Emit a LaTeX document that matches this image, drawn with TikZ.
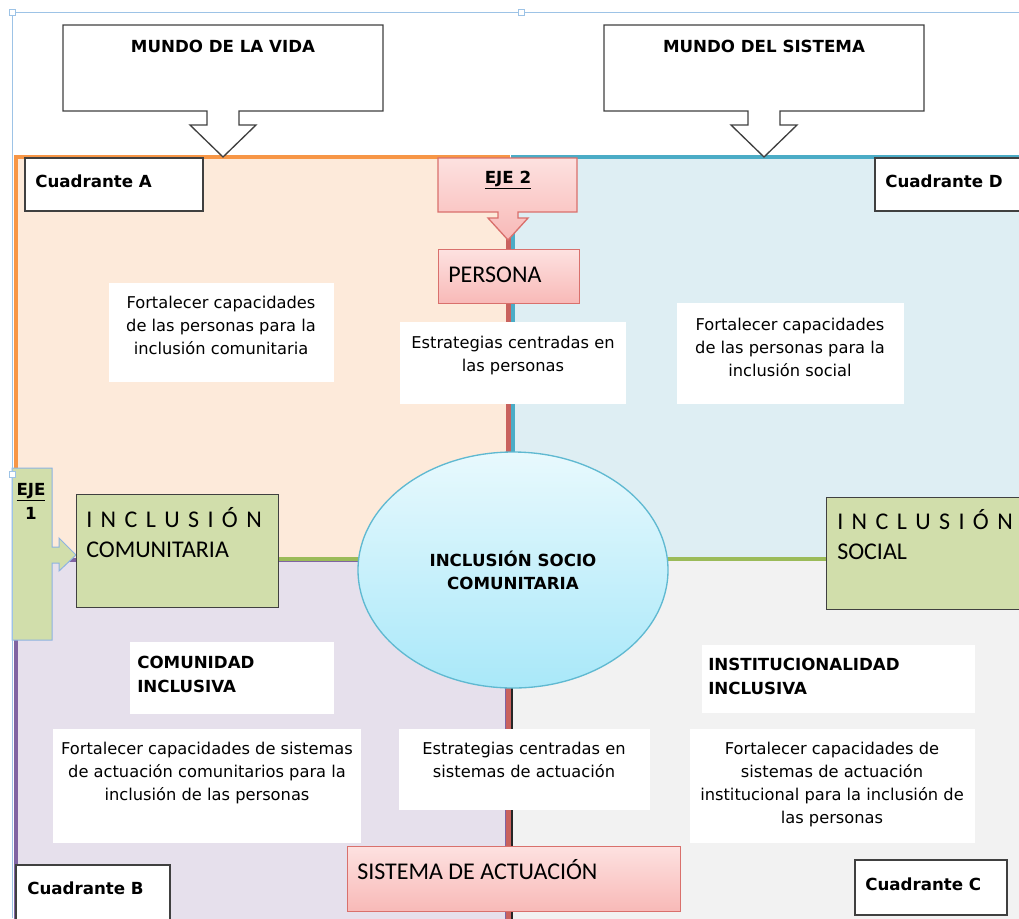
\documentclass[tikz,border=0pt]{standalone}
\usepackage{fontspec}
\setmainfont{DejaVu Sans}
\newfontfamily\calib{Carlito}
\usetikzlibrary{shapes.geometric}
\definecolor{quadAline}{HTML}{F79646}
\definecolor{quadAfill}{HTML}{FDEADA}
\definecolor{quadDline}{HTML}{4BACC6}
\definecolor{quadDfill}{HTML}{DEEEF3}
\definecolor{quadBline}{HTML}{8064A2}
\definecolor{quadBfill}{HTML}{E6E0EC}
\definecolor{quadCfill}{HTML}{F2F2F2}
\definecolor{ejeline}{HTML}{C9625E}
\definecolor{linkgreen}{HTML}{9BBB59}
\definecolor{boxgreen}{HTML}{D1DEAB}
\definecolor{pinktop}{HTML}{FDE1E0}
\definecolor{pinkbot}{HTML}{F8B9B7}
\definecolor{pinkline}{HTML}{D9706C}
\definecolor{coretop}{HTML}{E8F9FD}
\definecolor{corebot}{HTML}{A9E8F9}
\definecolor{coreline}{HTML}{5FB9D1}
\definecolor{selblue}{HTML}{9DC3E6}
\definecolor{ejeone}{HTML}{8DB3E2}

\begin{document}
\begin{tikzpicture}[x=0.75pt,y=-0.75pt,line join=miter,
  callout/.style={draw=black!75,line width=1pt,fill=white},
  pinkbox/.style={draw=pinkline,line width=1pt,top color=pinktop,bottom color=pinkbot},
  greenbox/.style={draw=black!75,line width=1pt,fill=boxgreen},
  quadbox/.style={draw=black!75,line width=1pt,fill=white},
  core/.style={ellipse,draw=coreline,line width=1pt,top color=coretop,bottom color=corebot,inner sep=0,
    minimum width=232.5pt,minimum height=177pt,font=\bfseries\fontsize{12.5}{17.25}\selectfont,align=center},
  headtxt/.style={font=\bfseries\fontsize{12.5}{18}\selectfont,inner sep=0,align=left},
  bodytxt/.style={font=\fontsize{12.2}{17.25}\selectfont,inner sep=0,align=center},
  calibtxt/.style={font=\calib\fontsize{18}{22.5}\selectfont,inner sep=0,align=left}]
  \useasboundingbox (0,0) rectangle (1019,918);
  \clip (0,0) rectangle (1019,918);

  \draw[quadAline,line width=3pt,fill=quadAfill] (16,157) rectangle (508,560);
  \draw[quadDline,line width=3pt,fill=quadDfill] (513,157) rectangle (1030,560);
  \draw[quadBline,line width=3pt,fill=quadBfill] (16,560) rectangle (507,930);
  \draw[black!85,line width=1.5pt,fill=quadCfill] (512,560) rectangle (1030,930);
  \draw[ejeline,line width=3.75pt] (508.5,215) coordinate (ejetop) -- (508.5,930) coordinate (ejebot);

  \draw[callout] (63,25) -- (383,25) -- (383,111) -- (239,111) -- (239,125) -- (256,125) -- (223,157) -- (190,125) -- (207,125) -- (207,111) -- (63,111) -- cycle;
  \node[headtxt,anchor=base] (vida) at (223,52) {MUNDO DE LA VIDA};
  \draw[callout] (604,25) -- (924,25) -- (924,111) -- (780,111) -- (780,125) -- (797,125) -- (764,157) -- (731,125) -- (748,125) -- (748,111) -- (604,111) -- cycle;
  \node[headtxt,anchor=base] (sistema) at (764,52) {MUNDO DEL SISTEMA};

  \draw[quadbox] (25,158) rectangle (203,211);
  \node[headtxt,anchor=base west] (cuadA) at (35,187) {Cuadrante A};
  \draw[quadbox] (875,158) rectangle (1030,211);
  \node[headtxt,anchor=base west] (cuadD) at (885,187) {Cuadrante D};

  \draw[pinkbox] (438,158) -- (577,158) -- (577,212) -- (518,212) -- (518,218) -- (528,218) -- (508,240) -- (488,218) -- (498,218) -- (498,212) -- (438,212) -- cycle;
  \node[headtxt,anchor=base] (eje2) at (508,183) {\underline{EJE 2}};
  \node[pinkbox,anchor=north west,minimum width=105.75pt,minimum height=40.5pt,inner sep=0] (persona) at (438,249) {};
  \node[calibtxt,anchor=base west] (personatxt) at (448,282) {PERSONA};

  \fill[white] (109,283) rectangle (334,382);
  \node[bodytxt,anchor=base] (fortA) at (221,354) {Fortalecer capacidades\\de las personas para la\\inclusión comunitaria};
  \fill[white] (400,322) rectangle (626,404);
  \node[bodytxt,anchor=base] (estPers) at (513,371) {Estrategias centradas en\\las personas};
  \fill[white] (677,303) rectangle (904,404);
  \node[bodytxt,anchor=base] (fortD) at (790,376) {Fortalecer capacidades\\de las personas para la\\inclusión social};

  \draw[ejeone,line width=0.75pt,fill=boxgreen] (12,468) -- (52,468) -- (52,547) -- (59,547) -- (59,538) -- (76,555) -- (59,571) -- (59,563) -- (52,563) -- (52,640) -- (12,640) -- cycle;
  \node[headtxt,anchor=base,align=center] (eje1) at (31,519) {\underline{EJE}\\1};

  \node[greenbox,anchor=north west,minimum width=151.5pt,minimum height=84.75pt,inner sep=0] (comunit) at (76,494) {};
  \node[calibtxt,anchor=base west] (comunittxt) at (86,557) {{\spaceskip=0.35em I N C L U S I Ó N}\\COMUNITARIA};
  \node[greenbox,anchor=north west,minimum width=150pt,minimum height=84pt,inner sep=0] (social) at (826,497) {};
  \node[calibtxt,anchor=base west] (socialtxt) at (837,559) {{\spaceskip=0.35em I N C L U S I Ó N}\\SOCIAL};
  \draw[linkgreen,line width=3pt] (comunit.east |- 0,559) -- (social.west |- 0,559);
  \node[core] (core) at (513,570) {INCLUSIÓN SOCIO\\COMUNITARIA};

  \fill[white] (130,642) rectangle (334,714);
  \node[headtxt,anchor=base west] (comunidad) at (137,692) {COMUNIDAD\\INCLUSIVA};
  \fill[white] (53,729) rectangle (361,843);
  \node[bodytxt,anchor=base] (fortB) at (207,800) {Fortalecer capacidades de sistemas\\de actuación comunitarios para la\\inclusión de las personas};
  \fill[white] (399,729) rectangle (650,810);
  \node[bodytxt,anchor=base] (estSist) at (524,777) {Estrategias centradas en\\sistemas de actuación};
  \fill[white] (702,645) rectangle (975,713);
  \node[headtxt,anchor=base west] (institucion) at (708,694) {INSTITUCIONALIDAD\\INCLUSIVA};
  \fill[white] (690,729) rectangle (975,843);
  \node[bodytxt,anchor=base] (fortC) at (832,823) {Fortalecer capacidades de\\sistemas de actuación\\institucional para la inclusión de\\las personas};

  \node[pinkbox,anchor=north west,minimum width=249.75pt,minimum height=48.75pt,inner sep=0] (actuacion) at (347,846) {};
  \node[calibtxt,anchor=base west] (actuaciontxt) at (357,879) {SISTEMA DE ACTUACIÓN};

  \draw[quadbox] (16,865) rectangle (170,930);
  \node[headtxt,anchor=base west] (cuadB) at (27,894) {Cuadrante B};
  \draw[quadbox] (855,860) rectangle (1007,915);
  \node[headtxt,anchor=base west] (cuadC) at (865,890) {Cuadrante C};

  \draw[selblue,line width=0.75pt] (12,918) -- (12,12) -- (1019,12);
  \draw[selblue,fill=white,line width=0.5pt] (9,9) rectangle (15,15) (518,9) rectangle (524,15) (9,471) rectangle (15,477);
\end{tikzpicture}
\end{document}
